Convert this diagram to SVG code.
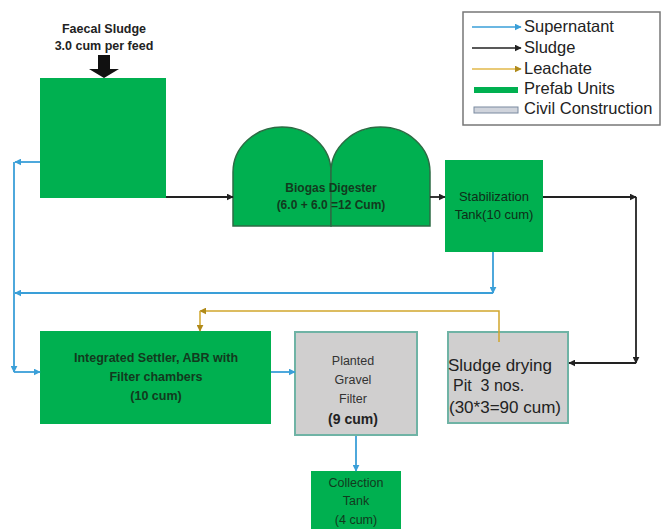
<svg xmlns="http://www.w3.org/2000/svg" width="663" height="529" viewBox="0 0 663 529">
<defs>
<style>
.prefab{fill:#00b050;}
.civil{fill:#d0cfcf;stroke:#6fb3a5;stroke-width:2;}
.dig{fill:#00b050;stroke:#2d6b44;stroke-width:1.5;}
.sup{fill:none;stroke:#3a9fd8;stroke-width:1.8;}
.slu{fill:none;stroke:#222;stroke-width:1.8;}
.lea{fill:none;stroke:#d1a72c;stroke-width:1.5;}
.gt{font-family:"Liberation Sans",Arial,sans-serif;font-size:12.5px;font-weight:bold;fill:#123a1e;text-anchor:middle;}
.ct{font-family:"Liberation Sans",Arial,sans-serif;font-size:12.5px;fill:#333;text-anchor:middle;}
.lt{font-family:"Liberation Sans",Arial,sans-serif;font-size:16.5px;fill:#222;}
</style>
<marker id="aB" viewBox="0 0 10 10" refX="9" refY="5" markerWidth="7" markerHeight="7" markerUnits="userSpaceOnUse" orient="auto"><path d="M0,0 L10,5 L0,10 Z" fill="#3a9fd8"/></marker>
<marker id="aK" viewBox="0 0 10 10" refX="9" refY="5" markerWidth="7" markerHeight="7" markerUnits="userSpaceOnUse" orient="auto"><path d="M0,0 L10,5 L0,10 Z" fill="#222"/></marker>
<marker id="aO" viewBox="0 0 10 10" refX="9" refY="5" markerWidth="7" markerHeight="7" markerUnits="userSpaceOnUse" orient="auto"><path d="M0,0 L10,5 L0,10 Z" fill="#b08a1a"/></marker>
</defs>
<rect width="663" height="529" fill="#ffffff"/>

<g id="feed">
<text x="104" y="33" style="font-family:'Liberation Sans',Arial,sans-serif;font-size:12.5px;font-weight:bold;fill:#222;text-anchor:middle">Faecal Sludge</text>
<text x="104" y="50" style="font-family:'Liberation Sans',Arial,sans-serif;font-size:12.5px;font-weight:bold;fill:#222;text-anchor:middle">3.0 cum per feed</text>
<path d="M98,55 H110 V69 H119 L104,78 L89,69 H98 Z" fill="#111"/>
</g>

<g id="inlet-tank">
<rect class="prefab" x="40" y="78" width="126" height="120"/>
</g>

<g id="digester">
<path class="dig" d="M233,226 V172 A49,45 0 0 1 331,172 V226 Z"/>
<path class="dig" d="M331,226 V172 A49.5,45 0 0 1 430,172 V226 Z"/>
<text class="gt" x="331" y="192" style="font-size:12px">Biogas Digester</text>
<text class="gt" x="331" y="209" style="font-size:12px">(6.0 + 6.0 =12 Cum)</text>
</g>

<g id="stabilization">
<rect class="prefab" x="445" y="160" width="98" height="92"/>
<text class="gt" x="494" y="201" style="font-weight:normal;font-size:13px;fill:#0e2e18">Stabilization</text>
<text class="gt" x="494" y="219" style="font-weight:normal;font-size:13px;fill:#0e2e18">Tank(10 cum)</text>
</g>

<g id="settler">
<rect class="prefab" x="40" y="331" width="231" height="93"/>
<text class="gt" x="156" y="362">Integrated Settler, ABR with</text>
<text class="gt" x="156" y="381">Filter chambers</text>
<text class="gt" x="156" y="400">(10 cum)</text>
</g>

<g id="gravel-filter">
<rect class="civil" x="295" y="332" width="122" height="103"/>
<text class="ct" x="353" y="365">Planted</text>
<text class="ct" x="353" y="384">Gravel</text>
<text class="ct" x="353" y="403">Filter</text>
<text class="ct" x="353" y="424" style="font-size:14px;font-weight:bold;fill:#222">(9 cum)</text>
</g>

<g id="collection">
<rect class="prefab" x="311" y="471" width="90" height="58"/>
<text class="gt" x="356" y="487" style="font-weight:normal">Collection</text>
<text class="gt" x="356" y="505" style="font-weight:normal">Tank</text>
<text class="gt" x="356" y="524" style="font-weight:normal">(4 cum)</text>
</g>

<g id="sludge-drying">
<rect class="civil" x="448" y="332" width="120" height="91"/>
<text class="lt" x="448" y="371" style="font-size:17px">Sludge drying</text>
<text class="lt" x="453" y="391" style="font-size:16px" xml:space="preserve">Pit  3 nos.</text>
<text class="lt" x="449" y="413" style="font-size:17px">(30*3=90 cum)</text>
</g>

<g id="connectors">
<path class="slu" d="M166,197 H233" marker-end="url(#aK)"/>
<path class="slu" d="M430,197 H445" marker-end="url(#aK)"/>
<path class="slu" d="M543,197 H636" marker-end="url(#aK)"/>
<path class="slu" d="M636,197 V363" marker-end="url(#aK)"/>
<path class="slu" d="M636,363 H569" marker-end="url(#aK)"/>
<path class="sup" d="M493,252 V293" marker-end="url(#aB)"/>
<path class="sup" d="M493,293 H15" marker-end="url(#aB)"/>
<path class="sup" d="M40,162 H15" marker-end="url(#aB)"/>
<path class="sup" d="M14,162 V372" marker-end="url(#aB)"/>
<path class="sup" d="M14,372 H40" marker-end="url(#aB)"/>
<path class="sup" d="M271,372 H295" marker-end="url(#aB)"/>
<path class="sup" d="M356,436 V471" marker-end="url(#aB)"/>
<path class="lea" d="M499,342 V311 H200" marker-end="url(#aO)"/>
<path class="lea" d="M200,311 V331" marker-end="url(#aO)"/>
</g>

<g id="legend">
<rect x="463" y="12" width="197" height="113" fill="#fff" stroke="#777" stroke-width="1.5"/>
<path class="sup" d="M472,27 H521" marker-end="url(#aB)" style="stroke-width:1.3"/>
<path class="slu" d="M472,48 H521" marker-end="url(#aK)" style="stroke-width:1.5"/>
<path class="lea" d="M472,69 H521" marker-end="url(#aO)" style="stroke:#e2b84a;stroke-width:1.3"/>
<rect x="474" y="87" width="44" height="6" fill="#00b050"/>
<rect x="474" y="107" width="44" height="6" fill="#d0d4dc" stroke="#7a8aa0" stroke-width="1"/>
<text class="lt" x="524" y="32">Supernatant</text>
<text class="lt" x="524" y="53">Sludge</text>
<text class="lt" x="524" y="74">Leachate</text>
<text class="lt" x="524" y="94">Prefab Units</text>
<text class="lt" x="524" y="114">Civil Construction</text>
</g>
</svg>
